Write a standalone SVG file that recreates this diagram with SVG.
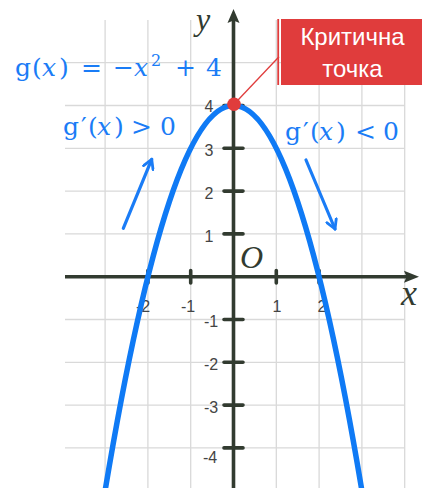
<svg xmlns="http://www.w3.org/2000/svg" width="422" height="488" viewBox="0 0 422 488">
<style>
.grid{stroke:#d9d9d9;stroke-width:1.3;fill:none}
.axis{stroke:#323b30;stroke-width:3.6;fill:none}
.tick{stroke:#323b30;stroke-width:3.6;stroke-linecap:round}
.lbl{font-family:"Liberation Sans",Arial,sans-serif;font-size:16px;fill:#444}
.math{font-family:"DejaVu Serif","Liberation Serif",serif;fill:#1a7cf6;font-size:25px}
.it{font-style:italic}
.dark{font-family:"Liberation Serif","DejaVu Serif",serif;font-style:italic;fill:#323b30}
.box{font-family:"Liberation Sans",Arial,sans-serif;font-size:24px;fill:#fff;text-anchor:middle}
.barrow{stroke:#1a7cf6;stroke-width:3.2;stroke-linecap:round;fill:none}
</style>
<defs>
<marker id="ah" viewBox="0 0 10 10" refX="8" refY="5" markerWidth="4" markerHeight="4" orient="auto" markerUnits="strokeWidth">
<path d="M1,1 L8,5 L1,9" fill="none" stroke="#1a7cf6" stroke-width="2.2" stroke-linecap="round" stroke-linejoin="round"/>
</marker>
</defs>
<rect width="422" height="488" fill="#fff"/>
<g id="grid" class="grid">
<path d="M105.1,20V488M147.9,20V488M190.7,20V488M276.3,20V488M319.1,20V488M361.9,20V488M404.7,20V488"/>
<path d="M65,62.7H405M65,105.5H405M65,148.3H405M65,191.1H405M65,233.9H405M65,319.5H405M65,362.3H405M65,405.1H405M65,447.9H405"/>
</g>
<g id="axes">
<path class="axis" d="M65,276.7H407"/>
<path d="M419,276.7L404,270.7L406.5,276.7L404,282.7Z" fill="#323b30"/>
<path class="axis" d="M233.5,488V20"/>
<path d="M233.5,9L227.5,23L233.5,20.5L239.5,23Z" fill="#323b30"/>
<g id="ticks">
<path class="tick" d="M224,105.5H243M224,148.3H243M224,191.1H243M224,233.9H243M224,319.5H243M224,362.3H243M224,405.1H243M224,447.9H243"/>
<path class="tick" d="M147.9,270.5V283M190.7,270.5V283M276.3,270.5V283M319.1,270.5V283"/>
</g>
<g id="ticklabels" class="lbl">
<text x="209" y="112" text-anchor="middle">4</text>
<text x="209" y="156" text-anchor="middle">3</text>
<text x="209" y="199" text-anchor="middle">2</text>
<text x="209" y="242" text-anchor="middle">1</text>
<text x="211" y="327" text-anchor="middle">-1</text>
<text x="211" y="370" text-anchor="middle">-2</text>
<text x="211" y="413" text-anchor="middle">-3</text>
<text x="210" y="463" text-anchor="middle">-4</text>
<text x="143" y="312" text-anchor="middle">-2</text>
<text x="188" y="312" text-anchor="middle">-1</text>
<text x="277" y="312" text-anchor="middle">1</text>
<text x="322" y="312" text-anchor="middle">2</text>
</g>
<text class="dark" x="240" y="268" font-size="32">O</text>
<text class="dark" x="196" y="30" font-size="32">y</text>
<text class="dark" x="401" y="305" font-size="36">x</text>
</g>
<g id="curve">
<path d="M105.1,490.7Q233.5,-279.7 361.9,490.7" fill="none" stroke="#0f7af5" stroke-width="5.5"/>
</g>
<g id="connectors">
<path d="M234,104.3L279,56.7" stroke="#e03c3c" stroke-width="1.3" fill="none"/>
<path class="barrow" d="M123.3,228.3L151.7,159.3" marker-end="url(#ah)"/>
<path class="barrow" d="M306,160L335,229" marker-end="url(#ah)"/>
</g>
<g id="critical-point">
<circle cx="234" cy="104.3" r="6.8" fill="#e03c3c"/>
</g>
<g id="callout">
<rect x="277.3" y="19" width="1.8" height="66" fill="#e03c3c"/>
<rect x="281" y="19" width="141" height="66" fill="#e03c3c"/>
<text class="box" x="352.5" y="45">Критична</text>
<text class="box" x="352.5" y="77">точка</text>
</g>
<g id="formula">
<text class="math" y="76"><tspan x="15">g</tspan><tspan x="32">(</tspan><tspan x="42" class="it">x</tspan><tspan x="59">)</tspan><tspan x="81">=</tspan><tspan x="113">−</tspan><tspan x="134" class="it">x</tspan><tspan x="151" y="66" font-size="16">2</tspan><tspan x="175" y="76">+</tspan><tspan x="206">4</tspan></text>
</g>
<g id="deriv-left">
<text class="math" y="135"><tspan x="63">g</tspan><tspan x="81">′</tspan><tspan x="88">(</tspan><tspan x="97" class="it">x</tspan><tspan x="114">)</tspan><tspan x="131">&gt;</tspan><tspan x="160">0</tspan></text>
</g>
<g id="deriv-right">
<text class="math" y="140"><tspan x="285">g</tspan><tspan x="303">′</tspan><tspan x="310">(</tspan><tspan x="319" class="it">x</tspan><tspan x="336">)</tspan><tspan x="355">&lt;</tspan><tspan x="383">0</tspan></text>
</g>
</svg>
